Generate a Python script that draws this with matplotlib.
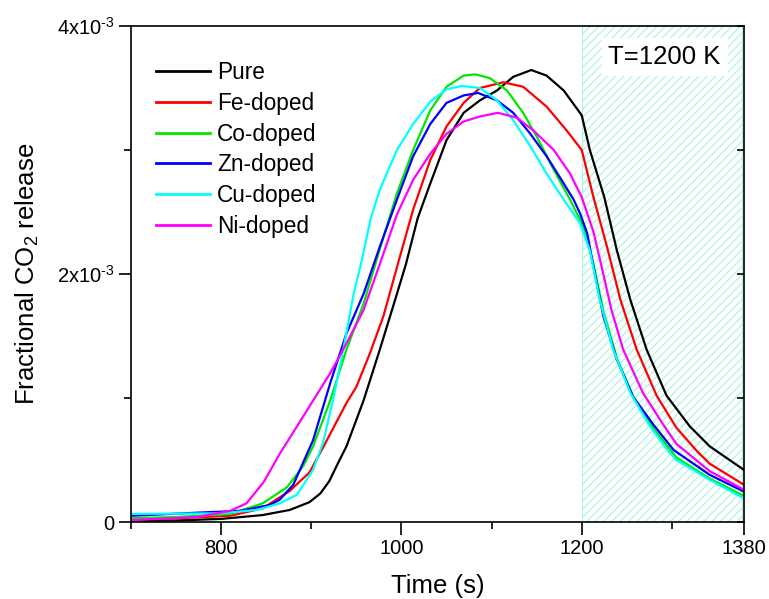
import matplotlib
matplotlib.use("Agg")
import matplotlib.pyplot as plt
from matplotlib.ticker import FixedLocator

plt.rcParams['font.family'] = ['Liberation Sans', 'DejaVu Sans']
plt.rcParams['mathtext.fontset'] = 'custom'
plt.rcParams['mathtext.rm'] = 'Liberation Sans'
plt.rcParams['mathtext.it'] = 'Liberation Sans:italic'
plt.rcParams['mathtext.bf'] = 'Liberation Sans:bold'
plt.rcParams['hatch.linewidth'] = 0.8

# ---- data (values in units of 1e-3) ----
t_pure = [700, 750, 800, 846, 876, 898, 910, 920, 930, 939, 958, 976, 995, 1005, 1018, 1032, 1050, 1069, 1087, 1106,
          1124, 1144, 1161, 1180, 1200, 1209, 1225, 1239, 1254, 1272, 1294, 1320, 1342, 1380]
v_pure = [0.01, 0.012, 0.025, 0.056, 0.097, 0.16, 0.23, 0.33, 0.48, 0.61, 0.98, 1.39, 1.84, 2.08, 2.45, 2.73, 3.08,
          3.30, 3.40, 3.48, 3.59, 3.645, 3.60, 3.48, 3.28, 3.0, 2.62, 2.19, 1.79, 1.39, 1.02, 0.77, 0.61, 0.42]

t_fe = [700, 750, 810, 846, 876, 898, 913, 939, 950, 965, 980, 996, 1013, 1032, 1050, 1069, 1087, 1113, 1135, 1161,
        1183, 1200, 1213, 1228, 1243, 1261, 1283, 1305, 1328, 1342, 1380]
v_fe = [0.02, 0.03, 0.05, 0.11, 0.25, 0.40, 0.60, 0.96, 1.09, 1.36, 1.66, 2.08, 2.52, 2.92, 3.19, 3.38, 3.50, 3.546,
        3.51, 3.35, 3.16, 3.0, 2.62, 2.22, 1.79, 1.39, 1.02, 0.76, 0.57, 0.47, 0.30]

t_co = [700, 750, 810, 846, 873, 891, 902, 921, 939, 958, 976, 995, 1013, 1032, 1050, 1069, 1082, 1098, 1117, 1135,
        1150, 1169, 1187, 1202, 1213, 1224, 1239, 1257, 1280, 1305, 1342, 1380]
v_co = [0.03, 0.04, 0.065, 0.15, 0.28, 0.45, 0.61, 0.98, 1.39, 1.76, 2.2, 2.65, 3.0, 3.32, 3.51, 3.60, 3.61, 3.58,
        3.48, 3.30, 3.11, 2.84, 2.6, 2.38, 2.08, 1.70, 1.32, 1.01, 0.75, 0.52, 0.35, 0.21]

t_zn = [700, 773, 821, 854, 865, 880, 902, 921, 939, 958, 976, 995, 1013, 1032, 1050, 1069, 1085, 1106, 1124, 1143,
        1161, 1180, 1191, 1198, 1206, 1213, 1224, 1239, 1257, 1280, 1302, 1342, 1380]
v_zn = [0.05, 0.075, 0.09, 0.137, 0.18, 0.30, 0.66, 1.12, 1.52, 1.84, 2.22, 2.6, 2.95, 3.21, 3.38, 3.44, 3.46, 3.40,
        3.30, 3.13, 2.95, 2.73, 2.6, 2.49, 2.33, 2.06, 1.66, 1.31, 1.01, 0.78, 0.58, 0.38, 0.245]

t_cu = [700, 799, 839, 865, 884, 902, 913, 924, 936, 947, 956, 966, 976, 995, 1013, 1032, 1050, 1067, 1087, 1106, 1124,
        1143, 1161, 1180, 1198, 1209, 1220, 1235, 1254, 1276, 1294, 1305, 1342, 1380]
v_cu = [0.065, 0.07, 0.097, 0.15, 0.22, 0.42, 0.64, 0.98, 1.41, 1.84, 2.11, 2.45, 2.68, 3.0, 3.21, 3.39, 3.49, 3.516,
        3.50, 3.40, 3.24, 3.03, 2.81, 2.6, 2.41, 2.19, 1.79, 1.39, 1.04, 0.77, 0.59, 0.50, 0.34, 0.19]

t_ni = [700, 773, 810, 828, 847, 865, 884, 902, 921, 939, 958, 976, 995, 1013, 1032, 1050, 1069, 1087, 1107, 1128,
        1146, 1169, 1187, 1200, 1213, 1222, 1233, 1246, 1268, 1290, 1305, 1342, 1380]
v_ni = [0.015, 0.04, 0.09, 0.15, 0.32, 0.55, 0.77, 0.98, 1.20, 1.44, 1.71, 2.08, 2.48, 2.76, 2.97, 3.13, 3.23, 3.27,
        3.30, 3.26, 3.16, 3.0, 2.81, 2.62, 2.34, 2.06, 1.71, 1.39, 1.04, 0.79, 0.63, 0.41, 0.26]

labels = ['Pure', 'Fe-doped', 'Co-doped', 'Zn-doped', 'Cu-doped', 'Ni-doped']
colors = ['#000000', '#FF0000', '#00E800', '#0000FF', '#00FFFF', '#FF00FF']
series_t = [t_pure, t_fe, t_co, t_zn, t_cu, t_ni]
series_v = [v_pure, v_fe, v_co, v_zn, v_cu, v_ni]

x_major = [800, 1000, 1200, 1380]
x_minor = [700, 900, 1100, 1300]
y_major = [0, 2e-3, 4e-3]
y_labels = ['0', r'2x10$^{\text{-}3}$', r'4x10$^{\text{-}3}$']
y_minor = [1e-3, 3e-3]
shade = (1200, 1380)
annot = 'T=1200 K'

fig = plt.figure(figsize=(7.69, 5.99), dpi=100)
ax = fig.add_axes([131/769, 1-522/599, (744-131)/769, (522-26)/599])

ax.axvspan(shade[0], shade[1] - 2, facecolor='white', edgecolor='#A8F4E0', hatch='////', linewidth=0.8, zorder=0)

for t, v, c, lab in zip(series_t, series_v, colors, labels):
    ax.plot(t, [x * 1e-3 for x in v], color=c, lw=1.6, label=lab, zorder=2)

ax.set_xlim(700, 1380)
ax.set_ylim(0, 4e-3)
ax.xaxis.set_major_locator(FixedLocator(x_major))
ax.xaxis.set_minor_locator(FixedLocator(x_minor))
ax.set_xticklabels([str(v) for v in x_major])
ax.yaxis.set_major_locator(FixedLocator(y_major))
ax.yaxis.set_minor_locator(FixedLocator(y_minor))
ax.set_yticklabels(y_labels)

ax.tick_params(axis='both', which='major', direction='out', length=9, width=1.2, labelsize=14.5, pad=3)
ax.tick_params(axis='both', which='minor', direction='out', length=5, width=1.2)
ax.tick_params(axis='y', which='both', right=True)
for tk in ax.yaxis.get_major_ticks() + ax.yaxis.get_minor_ticks():
    tk.tick2line.set_marker(0)  # inward on right
    tk.tick2line.set_markersize(5)
for s in ax.spines.values():
    s.set_linewidth(1.2)

ax.set_xlabel('Time (s)', fontsize=18.5, labelpad=12)
ax.set_ylabel(r'Fractional CO$_{\mathregular{2}}$ release', fontsize=18.5, labelpad=11)

ax.text(1292, 3.75e-3, annot, fontsize=18.5, ha='center', va='center',
        bbox=dict(facecolor='white', edgecolor='none', pad=5), zorder=3)

leg = ax.legend(loc='upper left', bbox_to_anchor=(0.041, 0.929), frameon=False, fontsize=16.3,
                handlelength=2.4, handletextpad=0.3, labelspacing=0.34, borderpad=0, borderaxespad=0)
for l in leg.get_lines():
    l.set_linewidth(2.0)

fig.savefig('out.png', dpi=100)
